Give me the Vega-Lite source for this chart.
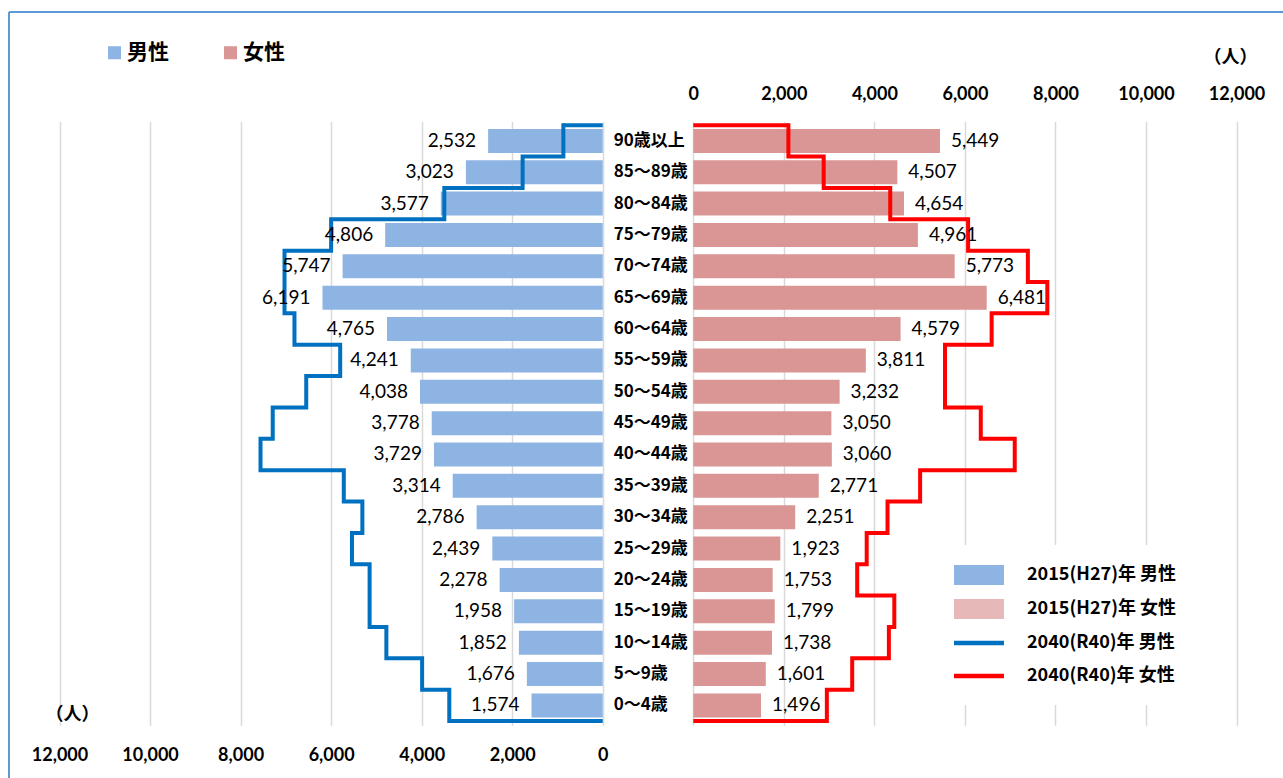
{
  "$schema": "https://vega.github.io/schema/vega-lite/v6.json",
  "width": 1274,
  "height": 766,
  "autosize": {"type": "none"},
  "padding": {"left": 9, "top": 12, "right": 0, "bottom": 0},
  "background": "white",
  "config": {
    "view": {"stroke": "#5B9BD5", "strokeWidth": 2, "strokeDash": [1274, 2040, 766, 0]},
    "font": "Lato, Noto Sans CJK JP"
  },
  "datasets": {
    "pop": [
      {"age": "0～4歳", "lo": 0, "hi": 5, "mid": 2.5, "m2015": 1574, "f2015": 1496, "m2040": 3390, "f2040": 2950},
      {"age": "5～9歳", "lo": 5, "hi": 10, "mid": 7.5, "m2015": 1676, "f2015": 1601, "m2040": 3990, "f2040": 3510},
      {"age": "10～14歳", "lo": 10, "hi": 15, "mid": 12.5, "m2015": 1852, "f2015": 1738, "m2040": 4780, "f2040": 4320},
      {"age": "15～19歳", "lo": 15, "hi": 20, "mid": 17.5, "m2015": 1958, "f2015": 1799, "m2040": 5150, "f2040": 4440},
      {"age": "20～24歳", "lo": 20, "hi": 25, "mid": 22.5, "m2015": 2278, "f2015": 1753, "m2040": 5150, "f2040": 3620},
      {"age": "25～29歳", "lo": 25, "hi": 30, "mid": 27.5, "m2015": 2439, "f2015": 1923, "m2040": 5540, "f2040": 3830},
      {"age": "30～34歳", "lo": 30, "hi": 35, "mid": 32.5, "m2015": 2786, "f2015": 2251, "m2040": 5310, "f2040": 4290},
      {"age": "35～39歳", "lo": 35, "hi": 40, "mid": 37.5, "m2015": 3314, "f2015": 2771, "m2040": 5720, "f2040": 5010},
      {"age": "40～44歳", "lo": 40, "hi": 45, "mid": 42.5, "m2015": 3729, "f2015": 3060, "m2040": 7560, "f2040": 7100},
      {"age": "45～49歳", "lo": 45, "hi": 50, "mid": 47.5, "m2015": 3778, "f2015": 3050, "m2040": 7290, "f2040": 6350},
      {"age": "50～54歳", "lo": 50, "hi": 55, "mid": 52.5, "m2015": 4038, "f2015": 3232, "m2040": 6550, "f2040": 5560},
      {"age": "55～59歳", "lo": 55, "hi": 60, "mid": 57.5, "m2015": 4241, "f2015": 3811, "m2040": 5800, "f2040": 5560},
      {"age": "60～64歳", "lo": 60, "hi": 65, "mid": 62.5, "m2015": 4765, "f2015": 4579, "m2040": 6810, "f2040": 6590},
      {"age": "65～69歳", "lo": 65, "hi": 70, "mid": 67.5, "m2015": 6191, "f2015": 6481, "m2040": 7030, "f2040": 7820},
      {"age": "70～74歳", "lo": 70, "hi": 75, "mid": 72.5, "m2015": 5747, "f2015": 5773, "m2040": 7030, "f2040": 7390},
      {"age": "75～79歳", "lo": 75, "hi": 80, "mid": 77.5, "m2015": 4806, "f2015": 4961, "m2040": 6000, "f2040": 6070},
      {"age": "80～84歳", "lo": 80, "hi": 85, "mid": 82.5, "m2015": 3577, "f2015": 4654, "m2040": 3500, "f2040": 4350},
      {"age": "85～89歳", "lo": 85, "hi": 90, "mid": 87.5, "m2015": 3023, "f2015": 4507, "m2040": 1770, "f2040": 2880},
      {"age": "90歳以上", "lo": 90, "hi": 95, "mid": 92.5, "m2015": 2532, "f2015": 5449, "m2040": 870, "f2040": 2100}
    ],
    "series": [
      {"s": "2015(H27)年 男性"},
      {"s": "2015(H27)年 女性"},
      {"s": "2040(R40)年 男性"},
      {"s": "2040(R40)年 女性"}
    ]
  },
  "data": {"name": "pop"},
  "resolve": {"scale": {"x": "independent"}, "axis": {"x": "independent"}},
  "layer": [
    {
      "mark": {"type": "bar", "orient": "horizontal", "size": 24},
      "encoding": {
        "x": {
          "field": "m2015", "type": "quantitative", "stack": null,
          "scale": {"domain": [-15027, 13116], "reverse": true, "nice": false, "zero": false},
          "axis": {
            "orient": "bottom", "values": [0, 2000, 4000, 6000, 8000, 10000, 12000], "format": ",d",
            "offset": -53, "domain": false, "ticks": false, "tickSize": 0,
            "grid": true, "gridColor": "#D9D9D9", "gridWidth": 1.5, "gridDash": [0, 109.6, 603.6, 1000],
            "labelPadding": 21, "labelFont": "Lato", "labelFontSize": 18, "labelFontWeight": "bold", "labelColor": "#000",
            "title": "（人）", "titleX": 63, "titleY": -11, "titleAngle": 0, "titleAlign": "center", "titleBaseline": "middle",
            "titleFont": "Noto Sans CJK JP", "titleFontSize": 18, "titleFontWeight": "bold", "titleColor": "#000"
          }
        },
        "y": {"field": "mid", "type": "quantitative", "scale": {"domain": [-8.28, 112.25], "nice": false, "zero": false}, "axis": null},
        "fill": {
          "datum": "男性", "type": "nominal",
          "scale": {"domain": ["男性", "女性"], "range": ["#8EB4E3", "#D99694"]},
          "legend": {
            "title": null, "orient": "none", "legendX": 95, "legendY": 30, "direction": "horizontal",
            "symbolType": "square", "symbolSize": 169, "symbolStrokeWidth": 0, "symbolOpacity": 1,
            "labelFont": "Noto Sans CJK JP", "labelFontSize": 21, "labelFontWeight": "bold", "labelColor": "#000",
            "labelOffset": 2, "columnPadding": 51, "padding": 0
          }
        }
      }
    },
    {
      "transform": [{"fold": ["lo", "hi"], "as": ["side", "edge"]}],
      "mark": {"type": "line", "color": "#0070C0", "strokeWidth": 4, "strokeJoin": "miter", "strokeCap": "square"},
      "encoding": {
        "x": {"field": "m2040", "type": "quantitative", "scale": {"domain": [-15027, 13116], "reverse": true, "nice": false, "zero": false}, "axis": null},
        "y": {"field": "edge", "type": "quantitative", "scale": {"domain": [-8.28, 112.25], "nice": false, "zero": false}, "axis": null},
        "order": {"field": "edge", "type": "quantitative"}
      }
    },
    {
      "transform": [{"filter": "datum.hi == 95"}],
      "mark": {"type": "bar", "orient": "horizontal", "size": 4, "color": "#0070C0"},
      "encoding": {
        "x": {"field": "m2040", "type": "quantitative", "stack": null, "scale": {"domain": [-15027, 13116], "reverse": true, "nice": false, "zero": false}, "axis": null},
        "y": {"field": "hi", "type": "quantitative", "scale": {"domain": [-8.28, 112.25], "nice": false, "zero": false}, "axis": null}
      }
    },
    {
      "transform": [{"filter": "datum.lo == 0"}],
      "mark": {"type": "bar", "orient": "horizontal", "size": 4, "color": "#0070C0"},
      "encoding": {
        "x": {"field": "m2040", "type": "quantitative", "stack": null, "scale": {"domain": [-15027, 13116], "reverse": true, "nice": false, "zero": false}, "axis": null},
        "y": {"field": "lo", "type": "quantitative", "scale": {"domain": [-8.28, 112.25], "nice": false, "zero": false}, "axis": null}
      }
    },
    {
      "mark": {"type": "text", "align": "right", "baseline": "middle", "dx": -12, "font": "Lato", "fontSize": 19, "color": "#000"},
      "encoding": {
        "x": {"field": "m2015", "type": "quantitative", "scale": {"domain": [-15027, 13116], "reverse": true, "nice": false, "zero": false}, "axis": null},
        "y": {"field": "mid", "type": "quantitative", "scale": {"domain": [-8.28, 112.25], "nice": false, "zero": false}, "axis": null},
        "text": {"field": "m2015", "type": "quantitative", "format": ",d"}
      }
    },
    {
      "mark": {"type": "text", "align": "left", "baseline": "middle", "dx": 11, "font": "Noto Sans CJK JP", "fontSize": 17, "fontWeight": "bold", "color": "#000"},
      "encoding": {
        "x": {"datum": 0, "type": "quantitative", "scale": {"domain": [-15027, 13116], "reverse": true, "nice": false, "zero": false}, "axis": null},
        "y": {"field": "mid", "type": "quantitative", "scale": {"domain": [-8.28, 112.25], "nice": false, "zero": false}, "axis": null},
        "text": {"field": "age", "type": "nominal"}
      }
    },
    {
      "mark": {"type": "bar", "orient": "horizontal", "size": 24},
      "encoding": {
        "x": {
          "field": "f2015", "type": "quantitative", "stack": null,
          "scale": {"domain": [-15116, 13026], "nice": false, "zero": false},
          "axis": {
            "orient": "top", "values": [0, 2000, 4000, 6000, 8000, 10000, 12000], "format": ",d",
            "offset": -110, "domain": false, "ticks": false, "tickSize": 0,
            "grid": true, "gridColor": "#D9D9D9", "gridWidth": 1.5, "gridDash": [0, 52.8, 603.6, 1000],
            "labelPadding": 19, "labelFont": "Lato", "labelFontSize": 18, "labelFontWeight": "bold", "labelColor": "#000",
            "title": "（人）", "titleX": 1221, "titleY": -65, "titleAngle": 0, "titleAlign": "center", "titleBaseline": "middle",
            "titleFont": "Noto Sans CJK JP", "titleFontSize": 18, "titleFontWeight": "bold", "titleColor": "#000"
          }
        },
        "y": {"field": "mid", "type": "quantitative", "scale": {"domain": [-8.28, 112.25], "nice": false, "zero": false}, "axis": null},
        "fill": {
          "datum": "女性", "type": "nominal",
          "scale": {"domain": ["男性", "女性"], "range": ["#8EB4E3", "#D99694"]},
          "legend": {
            "title": null, "orient": "none", "legendX": 95, "legendY": 30, "direction": "horizontal",
            "symbolType": "square", "symbolSize": 169, "symbolStrokeWidth": 0, "symbolOpacity": 1,
            "labelFont": "Noto Sans CJK JP", "labelFontSize": 21, "labelFontWeight": "bold", "labelColor": "#000",
            "labelOffset": 2, "columnPadding": 51, "padding": 0
          }
        }
      }
    },
    {
      "transform": [{"fold": ["lo", "hi"], "as": ["side", "edge"]}],
      "mark": {"type": "line", "color": "#FF0000", "strokeWidth": 4, "strokeJoin": "miter", "strokeCap": "square"},
      "encoding": {
        "x": {"field": "f2040", "type": "quantitative", "scale": {"domain": [-15116, 13026], "nice": false, "zero": false}, "axis": null},
        "y": {"field": "edge", "type": "quantitative", "scale": {"domain": [-8.28, 112.25], "nice": false, "zero": false}, "axis": null},
        "order": {"field": "edge", "type": "quantitative"}
      }
    },
    {
      "transform": [{"filter": "datum.hi == 95"}],
      "mark": {"type": "bar", "orient": "horizontal", "size": 4, "color": "#FF0000"},
      "encoding": {
        "x": {"field": "f2040", "type": "quantitative", "stack": null, "scale": {"domain": [-15116, 13026], "nice": false, "zero": false}, "axis": null},
        "y": {"field": "hi", "type": "quantitative", "scale": {"domain": [-8.28, 112.25], "nice": false, "zero": false}, "axis": null}
      }
    },
    {
      "transform": [{"filter": "datum.lo == 0"}],
      "mark": {"type": "bar", "orient": "horizontal", "size": 4, "color": "#FF0000"},
      "encoding": {
        "x": {"field": "f2040", "type": "quantitative", "stack": null, "scale": {"domain": [-15116, 13026], "nice": false, "zero": false}, "axis": null},
        "y": {"field": "lo", "type": "quantitative", "scale": {"domain": [-8.28, 112.25], "nice": false, "zero": false}, "axis": null}
      }
    },
    {
      "mark": {"type": "text", "align": "left", "baseline": "middle", "dx": 11, "font": "Lato", "fontSize": 19, "color": "#000"},
      "encoding": {
        "x": {"field": "f2015", "type": "quantitative", "scale": {"domain": [-15116, 13026], "nice": false, "zero": false}, "axis": null},
        "y": {"field": "mid", "type": "quantitative", "scale": {"domain": [-8.28, 112.25], "nice": false, "zero": false}, "axis": null},
        "text": {"field": "f2015", "type": "quantitative", "format": ",d"}
      }
    },
    {
      "data": {"name": "series"},
      "mark": {"type": "point", "filled": true, "opacity": 0},
      "encoding": {
        "color": {
          "field": "s", "type": "nominal",
          "scale": {
            "domain": ["2015(H27)年 男性", "2015(H27)年 女性", "2040(R40)年 男性", "2040(R40)年 女性"],
            "range": ["#8EB4E3", "#E6B9B8", "#0070C0", "#FF0000"]
          },
          "legend": {
            "title": null, "orient": "none", "legendX": 925, "legendY": 533, "direction": "vertical",
            "fillColor": "white", "padding": 20, "symbolSize": 400, "symbolStrokeWidth": 0, "symbolOpacity": 1,
            "labelFont": "Noto Sans CJK JP", "labelFontSize": 18, "labelFontWeight": "bold", "labelColor": "#000",
            "labelOffset": 53, "rowPadding": 14
          }
        },
        "shape": {
          "field": "s", "type": "nominal",
          "scale": {
            "domain": ["2015(H27)年 男性", "2015(H27)年 女性", "2040(R40)年 男性", "2040(R40)年 女性"],
            "range": ["M-1,-1H4V1H-1Z", "M-1,-1H4V1H-1Z", "M-1,-0.22H4V0.22H-1Z", "M-1,-0.22H4V0.22H-1Z"]
          },
          "legend": {
            "title": null, "orient": "none", "legendX": 925, "legendY": 533, "direction": "vertical",
            "fillColor": "white", "padding": 20, "symbolSize": 400, "symbolStrokeWidth": 0, "symbolOpacity": 1,
            "labelFont": "Noto Sans CJK JP", "labelFontSize": 18, "labelFontWeight": "bold", "labelColor": "#000",
            "labelOffset": 53, "rowPadding": 14
          }
        }
      }
    }
  ]
}
